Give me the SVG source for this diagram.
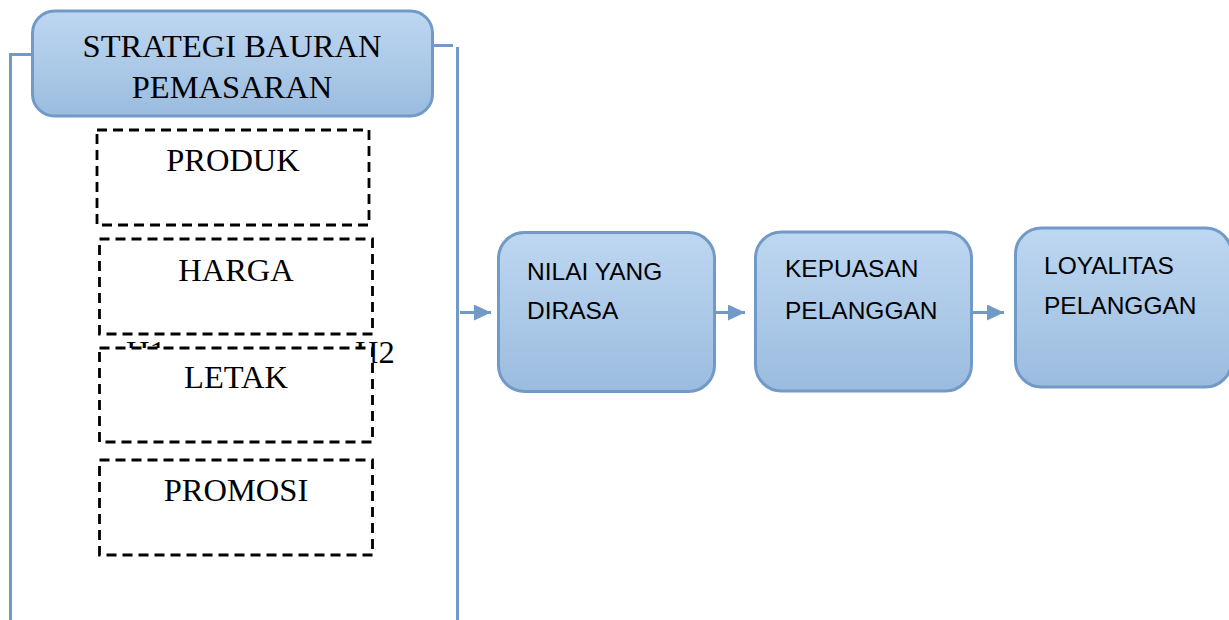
<svg xmlns="http://www.w3.org/2000/svg" width="1229" height="620" viewBox="0 0 1229 620">
<defs>
<linearGradient id="blueGrad" x1="0" y1="0" x2="0" y2="1">
<stop offset="0" stop-color="#bed7f1"/>
<stop offset="1" stop-color="#9bbcdf"/>
</linearGradient>
<marker id="arrow" markerUnits="userSpaceOnUse" markerWidth="17" markerHeight="16" refX="17" refY="8" orient="auto">
<path d="M0,0 L17,8 L0,16 Z" fill="#729ac6"/>
</marker>
<style>
.blue{fill:url(#blueGrad);stroke:#729ac6;stroke-width:3}
.dash{fill:#ffffff;stroke:#000000;stroke-width:2.8;stroke-dasharray:10 6}
.serif{font-family:"Liberation Serif","Times New Roman",serif;font-size:32.5px;fill:#000000}
.sans{font-family:"Liberation Sans",Arial,sans-serif;font-size:24.5px;fill:#000000}
.conn{fill:none;stroke:#729ac6;stroke-width:3}
</style>
</defs>
<rect width="1229" height="620" fill="#ffffff"/>

<g id="connectors">
<polyline class="conn" points="33,54.5 10.5,54.5 10.5,620"/>
<polyline class="conn" points="433,45.5 453,45.5"/>
<line class="conn" x1="457.5" y1="47" x2="457.5" y2="620"/>
<line class="conn" x1="460" y1="312.5" x2="491" y2="312.5" marker-end="url(#arrow)"/>
<line class="conn" x1="716" y1="312.5" x2="745" y2="312.5" marker-end="url(#arrow)"/>
<line class="conn" x1="973" y1="312.5" x2="1004" y2="312.5" marker-end="url(#arrow)"/>
</g>

<g id="strategi">
<rect class="blue" x="32.5" y="11" width="400" height="105" rx="22"/>
<text class="serif" x="232" y="57" text-anchor="middle">STRATEGI BAURAN</text>
<text class="serif" x="232" y="98" text-anchor="middle">PEMASARAN</text>
</g>

<g id="produk">
<rect class="dash" x="97" y="130" width="272" height="95"/>
<text class="serif" x="233" y="171" text-anchor="middle">PRODUK</text>
</g>

<g id="hypotheses">
<text class="serif" x="126" y="363">H1</text>
<text class="serif" x="355" y="363">H2</text>
</g>

<g id="harga">
<rect class="dash" x="99.5" y="239" width="273" height="95" fill-opacity="0"/>
<text class="serif" x="236" y="281" text-anchor="middle">HARGA</text>
</g>

<g id="letak">
<rect class="dash" x="99.5" y="348" width="273" height="94"/>
<text class="serif" x="236" y="388" text-anchor="middle">LETAK</text>
</g>

<g id="promosi">
<rect class="dash" x="99.5" y="460" width="273" height="95"/>
<text class="serif" x="236" y="501" text-anchor="middle">PROMOSI</text>
</g>

<g id="nilai">
<rect class="blue" x="498.5" y="232.5" width="216" height="159" rx="26"/>
<text class="sans" x="527" y="280">NILAI YANG</text>
<text class="sans" x="527" y="319">DIRASA</text>
</g>

<g id="kepuasan">
<rect class="blue" x="755.5" y="232" width="216" height="159" rx="26"/>
<text class="sans" x="785" y="277">KEPUASAN</text>
<text class="sans" x="785" y="319">PELANGGAN</text>
</g>

<g id="loyalitas">
<rect class="blue" x="1015.5" y="228" width="216" height="159" rx="26"/>
<text class="sans" x="1044" y="274">LOYALITAS</text>
<text class="sans" x="1044" y="314">PELANGGAN</text>
</g>
</svg>
